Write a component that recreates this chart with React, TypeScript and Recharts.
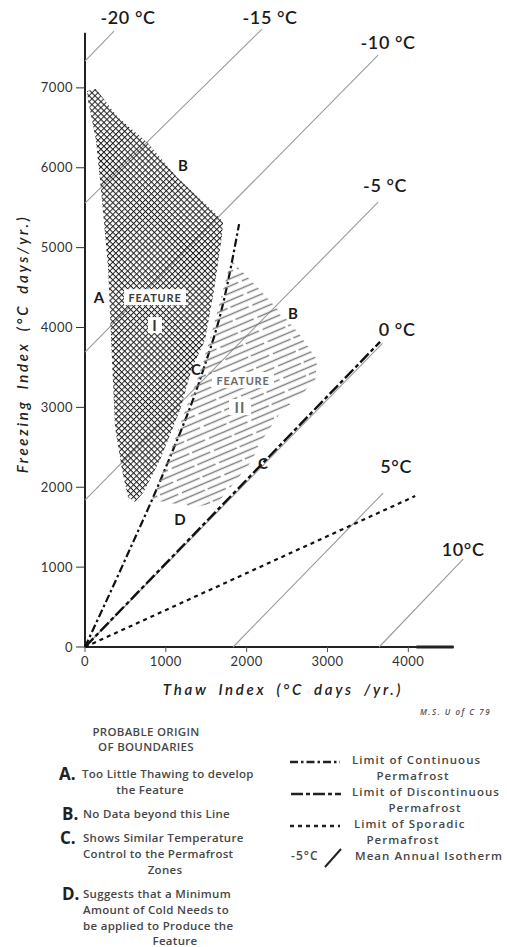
import React from "react";
import { ComposedChart, Line, ReferenceLine, Scatter, XAxis, YAxis } from "recharts";

// Axis ticks (°C days / yr.)
const thawTicks = [0, 1000, 2000, 3000, 4000];
const freezeTicks = [0, 1000, 2000, 3000, 4000, 5000, 6000, 7000];

// Feature I outline, thaw index t vs freezing index f
const featureOne = [
  { t: 25, f: 6960 }, { t: 136, f: 6985 }, { t: 408, f: 6633 }, { t: 780, f: 6308 },
  { t: 1139, f: 5882 }, { t: 1634, f: 5407 }, { t: 1708, f: 5319 }, { t: 1696, f: 5156 },
  { t: 1597, f: 4468 }, { t: 1485, f: 3842 }, { t: 1324, f: 3492 }, { t: 1176, f: 2966 },
  { t: 928, f: 2341 }, { t: 718, f: 1927 }, { t: 619, f: 1815 }, { t: 532, f: 1877 },
  { t: 458, f: 2215 }, { t: 371, f: 2753 }, { t: 334, f: 3592 }, { t: 285, f: 4756 },
  { t: 210, f: 5594 }, { t: 136, f: 6345 }, { t: 37, f: 6846 },
];

// Feature II outline
const featureTwo = [
  { t: 1832, f: 4819 }, { t: 2141, f: 4493 }, { t: 2413, f: 4193 }, { t: 2661, f: 3905 },
  { t: 2871, f: 3592 }, { t: 2847, f: 3342 }, { t: 2698, f: 3179 }, { t: 2413, f: 2929 },
  { t: 2191, f: 2591 }, { t: 2042, f: 2303 }, { t: 1795, f: 1990 }, { t: 1634, f: 1802 },
  { t: 1337, f: 1752 }, { t: 990, f: 1815 }, { t: 829, f: 1840 }, { t: 1040, f: 2403 },
  { t: 1240, f: 2966 }, { t: 1410, f: 3404 }, { t: 1560, f: 3905 }, { t: 1690, f: 4405 },
  { t: 1780, f: 4743 },
];

// Permafrost limits
const continuousLimit = [
  { t: 0, f: 0 }, { t: 500, f: 1100 }, { t: 1000, f: 2250 }, { t: 1440, f: 3400 },
  { t: 1720, f: 4350 }, { t: 1906, f: 5294 },
];
const discontinuousLimit = [{ t: 0, f: 0 }, { t: 3650, f: 3820 }];
const sporadicLimit = [{ t: 0, f: 0 }, { t: 4085, f: 1890 }];

// Mean annual isotherms (end points)
const isothermNames = ["-20 °C", "-15 °C", "-10 °C", "-5 °C", "0 °C", "5°C", "10°C"];
const isothermLines = [
  [{ t: 0, f: 7334 }, { t: 359, f: 7710 }],
  [{ t: 0, f: 5557 }, { t: 2190, f: 7735 }],
  [{ t: 0, f: 3692 }, { t: 3626, f: 7409 }],
  [{ t: 0, f: 1840 }, { t: 3626, f: 5569 }],
  [{ t: 0, f: 0 }, { t: 3680, f: 3800 }],
  [{ t: 1832, f: 0 }, { t: 3688, f: 1927 }],
  [{ t: 3639, f: 0 }, { t: 4678, f: 1101 }],
];
const isothermLabelAt = [
  { t: 532, f: 7885 }, { t: 2290, f: 7885 }, { t: 3750, f: 7572 }, { t: 3713, f: 5782 },
  { t: 3861, f: 3980 }, { t: 3849, f: 2265 }, { t: 4678, f: 1227 },
];

// Boundary letters and feature names
const boundaryLetters = [
  { t: 1213, f: 6033, text: "B" }, { t: 173, f: 4380, text: "A" },
  { t: 2574, f: 4180, text: "B" }, { t: 1374, f: 3479, text: "C" },
  { t: 2203, f: 2303, text: "C" }, { t: 1176, f: 1602, text: "D" },
];
const featureNames = [
  { t: 866, f: 4380, text: "FEATURE", dark: true }, { t: 866, f: 4030, text: "I", dark: true },
  { t: 1955, f: 3342, text: "FEATURE", dark: false }, { t: 1918, f: 3004, text: "II", dark: false },
];

const isothermLabels = isothermNames.map((text, i) => ({ ...isothermLabelAt[i], text }));

const FONT = "Lato, 'Open Sans', sans-serif";
const LEGEND_FONT = "'Open Sans', Lato, sans-serif";

const DASH_DOT = "8 3 2.5 3";
const LONG_DASH = "12 3 4 3";
const SHORT_DASH = "4 4";

function polygonPath(points: { x: number; y: number }[]) {
  return points.map((p, i) => `${i === 0 ? "M" : "L"}${p.x},${p.y}`).join(" ") + " Z";
}

const noDot = () => <g />;

function letterShape(props: any) {
  const { cx, cy, payload } = props;
  return (
    <text x={cx} y={cy} textAnchor="middle" dominantBaseline="central"
      fontFamily={FONT} fontWeight={700} fontSize={15} fill="#1a1a1a">
      {payload.text}
    </text>
  );
}

function isothermShape(props: any) {
  const { cx, cy, payload } = props;
  return (
    <text x={cx} y={cy} textAnchor="middle" dominantBaseline="central"
      fontFamily={FONT} fontWeight={600} fontSize={18} letterSpacing={0.6} fill="#1a1a1a">
      {payload.text}
    </text>
  );
}

function featureShape(props: any) {
  const { cx, cy, payload } = props;
  const long = payload.text.length > 2;
  const w = payload.text.length * 8 + 6;
  return (
    <g>
      <rect x={cx - w / 2} y={cy - 8} width={w} height={16} fill="#fff" />
      <text x={cx} y={cy} textAnchor="middle" dominantBaseline="central"
        fontFamily={FONT} fontWeight={700} fontSize={long ? 11 : 15}
        letterSpacing={long ? 0.8 : 1} fill={payload.dark ? "#3a3a3a" : "#6a6a6a"}>
        {payload.text}
      </text>
    </g>
  );
}

function FreezeLabel({ viewBox }: any) {
  const cx = viewBox.x + 22;
  const cy = 344;
  return (
    <text x={cx} y={cy} transform={`rotate(-90 ${cx} ${cy})`} textAnchor="middle"
      dominantBaseline="central" fontFamily={FONT} fontStyle="italic" fontWeight={600}
      fontSize={15} letterSpacing={2.7} wordSpacing={4} fill="#222">
      Freezing Index (°C days/yr.)
    </text>
  );
}

function Note({ x, y, align = "left", size = 11.5, style, children }: any) {
  const shift = align === "center" ? "-50%" : "0";
  return (
    <div style={{
      position: "absolute", left: x, top: y, transform: `translate(${shift}, -50%)`,
      whiteSpace: "nowrap", fontSize: size, lineHeight: 1, fontFamily: LEGEND_FONT,
      fontWeight: 600, color: "#474747", letterSpacing: 0.3, ...style,
    }}>
      {children}
    </div>
  );
}

function Stroke({ x, y, dash }: any) {
  return (
    <svg style={{ position: "absolute", left: x, top: y - 3 }} width={50} height={6}>
      <line x1={0} y1={3} x2={50} y2={3} stroke="#222" strokeWidth={2.4} strokeDasharray={dash} />
    </svg>
  );
}

const BIG = { fontSize: 17, fontWeight: 700, color: "#222", letterSpacing: 0 };
const WIDE = { letterSpacing: 1.05 };

export default function App() {
  return (
    <div style={{ position: "absolute", left: 0, top: 0, width: 507, height: 947, background: "#fff" }}>
      <ComposedChart width={507} height={705} margin={{ top: 8, right: 34, bottom: 0, left: 0 }}>
        <defs>
          <pattern id="crossHatch" width="4.2" height="4.2" patternUnits="userSpaceOnUse"
            patternTransform="rotate(45)">
            <path d="M0 0H4.2M0 0V4.2" stroke="#1e1e1e" strokeWidth="1.9" />
          </pattern>
          {/* staggered breaks so the hatch lines are not gapped in a grid */}
          <pattern id="lineHatch" width="46" height="13.2" patternUnits="userSpaceOnUse"
            patternTransform="rotate(-23)">
            <path d="M0 3.3H43M0 9.9H17M21 9.9H46" stroke="#7c7c7c" strokeWidth="1.4" />
          </pattern>
        </defs>
        <XAxis
          type="number" dataKey="t" domain={[0, 4800]} ticks={thawTicks}
          axisLine={false} tickLine={{ stroke: "#555" }} tickSize={5} tickMargin={5} height={58}
          tick={{ fontFamily: FONT, fontSize: 13, fill: "#333", letterSpacing: 0.5 }}
          label={{
            value: "Thaw Index (°C days /yr.)", position: "insideBottom", offset: 10, dx: 4,
            style: { fontFamily: FONT, fontStyle: "italic", fontWeight: 600, fontSize: 15,
              letterSpacing: 2.7, wordSpacing: 4, fill: "#222" },
          }}
        />
        <YAxis
          type="number" dataKey="f" domain={[0, 8000]} ticks={freezeTicks}
          width={85} axisLine={false} tickLine={{ stroke: "#333" }} tickSize={9} tickMargin={3}
          tick={{ fontFamily: FONT, fontSize: 13, fill: "#333", letterSpacing: 0.5 }}
          label={{ content: FreezeLabel }}
        />
        <ReferenceLine segment={[{ x: 0, y: 0 }, { x: 0, y: 7690 }]} stroke="#222" strokeWidth={2} />
        <ReferenceLine segment={[{ x: 0, y: 0 }, { x: 4560, y: 0 }]} stroke="#222" strokeWidth={2} />
        <ReferenceLine segment={[{ x: 4100, y: 0 }, { x: 4560, y: 0 }]} stroke="#222" strokeWidth={3} />

        <Scatter data={featureOne} dataKey="f" shape={noDot} isAnimationActive={false}
          line={(p: any) => <path d={polygonPath(p.points)} fill="url(#crossHatch)" stroke="none" />} />
        <Scatter data={featureTwo} dataKey="f" shape={noDot} isAnimationActive={false}
          line={(p: any) => <path d={polygonPath(p.points)} fill="url(#lineHatch)" stroke="none" />} />

        {isothermLines.map((pts, i) => (
          <Line key={isothermNames[i]} data={pts} dataKey="f" type="linear" stroke="#9a9a9a"
            strokeWidth={1.1} dot={false} activeDot={false} isAnimationActive={false} />
        ))}

        <Line data={continuousLimit} dataKey="f" type="monotone" stroke="#111" strokeWidth={2.2}
          strokeDasharray={DASH_DOT} dot={false} activeDot={false} isAnimationActive={false} />
        <Line data={discontinuousLimit} dataKey="f" type="linear" stroke="#111" strokeWidth={2.4}
          strokeDasharray={LONG_DASH} dot={false} activeDot={false} isAnimationActive={false} />
        <Line data={sporadicLimit} dataKey="f" type="linear" stroke="#111" strokeWidth={2.2}
          strokeDasharray={SHORT_DASH} dot={false} activeDot={false} isAnimationActive={false} />

        <Scatter data={featureNames} dataKey="f" shape={featureShape} isAnimationActive={false} />
        <Scatter data={boundaryLetters} dataKey="f" shape={letterShape} isAnimationActive={false} />
        <Scatter data={isothermLabels} dataKey="f" shape={isothermShape} isAnimationActive={false} />
      </ComposedChart>

      <Note x={420} y={712} size={8} style={{ fontStyle: "italic", letterSpacing: 1.5, color: "#555" }}>
        M.S. U of C 79
      </Note>

      <Note x={146} y={732} align="center" style={{ fontSize: 11.5 }}>PROBABLE ORIGIN</Note>
      <Note x={146} y={747} align="center" style={{ fontSize: 11.5 }}>OF BOUNDARIES</Note>

      <Note x={59} y={773} style={BIG}>A.</Note>
      <Note x={82} y={774}>Too Little Thawing to develop</Note>
      <Note x={150} y={790} align="center">the Feature</Note>

      <Note x={62} y={813} style={BIG}>B.</Note>
      <Note x={83} y={814}>No Data beyond this Line</Note>

      <Note x={60} y={837} style={BIG}>C.</Note>
      <Note x={83} y={838}>Shows Similar Temperature</Note>
      <Note x={83} y={854}>Control to the Permafrost</Note>
      <Note x={165} y={870} align="center">Zones</Note>

      <Note x={62} y={893} style={BIG}>D.</Note>
      <Note x={83} y={894}>Suggests that a Minimum</Note>
      <Note x={83} y={910}>Amount of Cold Needs to</Note>
      <Note x={83} y={926}>be applied to Produce the</Note>
      <Note x={175} y={941} align="center">Feature</Note>

      <Stroke x={290} y={762} dash={DASH_DOT} />
      <Note x={352} y={760} style={WIDE}>Limit of Continuous</Note>
      <Note x={413} y={776} align="center" style={WIDE}>Permafrost</Note>

      <Stroke x={291} y={794} dash={LONG_DASH} />
      <Note x={352} y={792} style={WIDE}>Limit of Discontinuous</Note>
      <Note x={425} y={808} align="center" style={WIDE}>Permafrost</Note>

      <Stroke x={290} y={826} dash={SHORT_DASH} />
      <Note x={354} y={824} style={WIDE}>Limit of Sporadic</Note>
      <Note x={403} y={840} align="center" style={WIDE}>Permafrost</Note>

      <Note x={291} y={856} style={{ ...WIDE, fontSize: 12 }}>-5°C</Note>
      <svg style={{ position: "absolute", left: 322, top: 846 }} width={22} height={24}>
        <line x1={3} y1={21} x2={19} y2={3} stroke="#222" strokeWidth={2} />
      </svg>
      <Note x={355} y={856} style={WIDE}>Mean Annual Isotherm</Note>
    </div>
  );
}
